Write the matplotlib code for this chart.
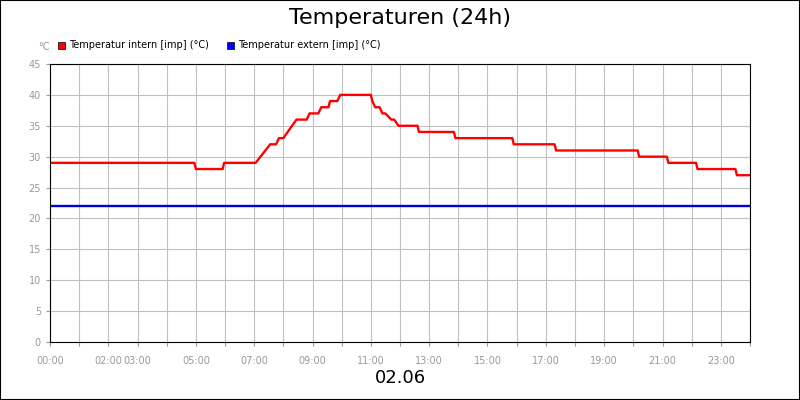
import matplotlib
matplotlib.use("Agg")
import matplotlib.pyplot as plt
from matplotlib.patches import Rectangle

hours_int = [0, 4.95, 5.0, 5.92, 5.97, 7.05, 7.55, 7.75, 7.85, 8.0, 8.15, 8.3, 8.45, 8.8, 8.9, 9.2, 9.3, 9.55, 9.6, 9.85, 9.95, 11.0, 11.05, 11.15, 11.3, 11.4, 11.5, 11.7, 11.8, 11.95, 12.05, 12.6, 12.65, 13.85, 13.9, 15.85, 15.9, 17.3, 17.35, 20.15, 20.2, 21.15, 21.2, 22.15, 22.2, 23.5, 23.55, 24.0]
temp_int = [29, 29, 28, 28, 29, 29, 32, 32, 33, 33, 34, 35, 36, 36, 37, 37, 38, 38, 39, 39, 40, 40, 39, 38, 38, 37, 37, 36, 36, 35, 35, 35, 34, 34, 33, 33, 32, 32, 31, 31, 30, 30, 29, 29, 28, 28, 27, 27]
hours_ext = [0, 24]
temp_ext = [22, 22]
tick_hours = [0, 2, 3, 5, 7, 9, 11, 13, 15, 17, 19, 21, 23]
tick_labels = ["00:00", "02:00", "03:00", "05:00", "07:00", "09:00", "11:00", "13:00", "15:00", "17:00", "19:00", "21:00", "23:00"]

fig = plt.figure(figsize=(8, 4), dpi=100)
fig.patches.append(Rectangle((0, 0), 1, 1, transform=fig.transFigure, fill=False, edgecolor="black", lw=1.5))
ax = fig.add_axes([50/800, 1-342/400, 700/800, 278/400])
ax.plot(hours_int, temp_int, color="#ff0000", lw=1.7)
ax.plot(hours_ext, temp_ext, color="#0000dd", lw=1.7)
ax.set_xlim(0, 24)
ax.set_ylim(0, 45)
ax.set_xticks(range(0, 25), minor=False)
ax.set_xticklabels([""] * 25)
for h, l in zip(tick_hours, tick_labels):
    ax.text(h, -2.2, l, ha="center", va="top", fontsize=7, color="#999999")
ax.set_yticks(range(0, 46, 5))
ax.tick_params(axis="y", labelsize=7, labelcolor="#999999", length=3, color="#999999")
ax.tick_params(axis="x", length=3, color="#999999")
ax.grid(True, color="#c0c0c0", lw=0.8)
ax.set_axisbelow(True)
for s in ax.spines.values():
    s.set_color("black")
fig.text(0.5, 1-18/400, "Temperaturen (24h)", ha="center", va="center", fontsize=16)
fig.text(38/800, 1-47/400, "°C", ha="left", va="center", fontsize=7, color="#999999")
fig.text(0.5, 1-378/400, "02.06", ha="center", va="center", fontsize=13)
fig.patches.append(Rectangle((58/800, 1-49/400), 7/800, 7/400, transform=fig.transFigure, facecolor="#ff0000", edgecolor="black", lw=0.5))
fig.text(69/800, 1-45/400, "Temperatur intern [imp] (°C)", fontsize=7, va="center")
fig.patches.append(Rectangle((227/800, 1-49/400), 7/800, 7/400, transform=fig.transFigure, facecolor="#0000ff", edgecolor="black", lw=0.5))
fig.text(238/800, 1-45/400, "Temperatur extern [imp] (°C)", fontsize=7, va="center")
fig.savefig("out.png")
